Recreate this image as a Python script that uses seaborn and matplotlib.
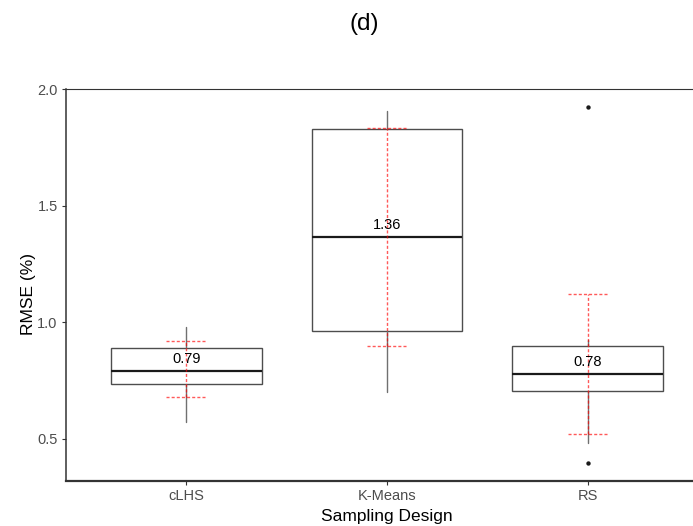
import matplotlib
matplotlib.use("Agg")
import matplotlib.pyplot as plt
import seaborn as sns
import pandas as pd

# Five-number summaries of RMSE (%) for each sampling design
designs = ["cLHS", "K-Means", "RS"]
whisker_low = [0.571, 0.700, 0.481]
q1 = [0.734, 0.963, 0.706]
median = [0.790, 1.364, 0.776]
q3 = [0.889, 1.827, 0.897]
whisker_high = [0.979, 1.906, 0.924]
outliers = [[], [], [0.395, 1.924]]

# Mean +/- standard deviation (red dashed bars)
mean = [0.799, 1.365, 0.820]
sd = [0.120, 0.468, 0.300]

yticks = [0.5, 1.0, 1.5, 2.0]

summary = pd.DataFrame({
    "design": designs, "whislo": whisker_low, "q1": q1, "med": median,
    "q3": q3, "whishi": whisker_high, "mean": mean, "sd": sd,
})
summary["fliers"] = outliers
positions = list(range(len(designs)))

sns.set_theme(style="ticks")
plt.rcParams["font.family"] = ["Liberation Sans", "DejaVu Sans"]

fig = plt.figure(figsize=(6.93, 5.26), dpi=100)
ax = fig.add_axes([66 / 693, 45 / 526, 642 / 693, 392 / 526])

stats = [
    {"label": r.design, "whislo": r.whislo, "q1": r.q1, "med": r.med,
     "q3": r.q3, "whishi": r.whishi, "fliers": []}
    for r in summary.itertuples()
]
ax.bxp(
    stats, positions=positions, widths=0.75, patch_artist=True,
    showcaps=False, showfliers=False,
    boxprops=dict(facecolor="white", edgecolor="#4d4d4d", linewidth=1.0),
    whiskerprops=dict(color="#707070", linewidth=1.0),
    medianprops=dict(color="#1a1a1a", linewidth=1.6),
    zorder=2,
)

# Outlying observations
flier_df = summary[["design", "fliers"]].explode("fliers").dropna()
flier_df["pos"] = flier_df["design"].map({d: i for i, d in enumerate(designs)})
flier_df["fliers"] = flier_df["fliers"].astype(float)
sns.scatterplot(data=flier_df, x="pos", y="fliers", color="#1a1a1a",
                s=10, linewidth=0, ax=ax, zorder=3, legend=False)

# Mean +/- SD as dashed red error bars
red = (1.0, 0.0, 0.0, 0.65)
dash = (0, (2.2, 1.5))
lo = summary["mean"] - summary["sd"]
hi = summary["mean"] + summary["sd"]
ax.vlines(positions, lo, hi, colors=[red], linestyles=[dash], linewidth=1.0, zorder=3)
for p, a, b in zip(positions, lo, hi):
    ax.hlines([a, b], p - 0.1, p + 0.1, colors=[red], linestyles=[dash],
              linewidth=1.0, zorder=3)

# Median value labels
for p, m in zip(positions, summary["med"]):
    ax.annotate(f"{m:.2f}", xy=(p, m), xytext=(0, 9), textcoords="offset points",
                ha="center", va="center", fontsize=10.5, color="black", zorder=4)

# Axis limits with 5% padding around the data range
all_vals = whisker_low + whisker_high + [v for o in outliers for v in o]
vmin, vmax = min(all_vals), max(all_vals)
pad = 0.05 * (vmax - vmin)
ax.set_ylim(vmin - pad, vmax + pad)
ax.set_xlim(-0.6, len(designs) - 0.4)

ax.set_xticks(positions)
ax.set_xticklabels(designs)
ax.set_yticks(yticks)
ax.set_yticklabels([f"{t:.1f}" for t in yticks])
ax.tick_params(axis="both", colors="#333333", labelcolor="#4d4d4d",
               labelsize=10.5, length=3, width=0.8, pad=3)

ax.spines["right"].set_visible(False)
ax.spines["left"].set_linewidth(1.1)
ax.spines["bottom"].set_linewidth(1.6)
ax.spines["top"].set_linewidth(0.8)
for side in ["left", "bottom", "top"]:
    ax.spines[side].set_color("#333333")
ax.grid(False)

ax.set_xlabel("")
ax.set_ylabel("")
fig.text(29 / 693, 1 - 294 / 526, "RMSE (%)", rotation=90, ha="center",
         va="center", fontsize=12.5, color="black")
fig.text(387 / 693, 1 - 516 / 526, "Sampling Design", ha="center",
         va="center", fontsize=12.5, color="black")
fig.text(364.5 / 693, 1 - 24 / 526, "(d)", ha="center", va="center",
         fontsize=17.5, color="black")

fig.savefig("out.png", dpi=100)
